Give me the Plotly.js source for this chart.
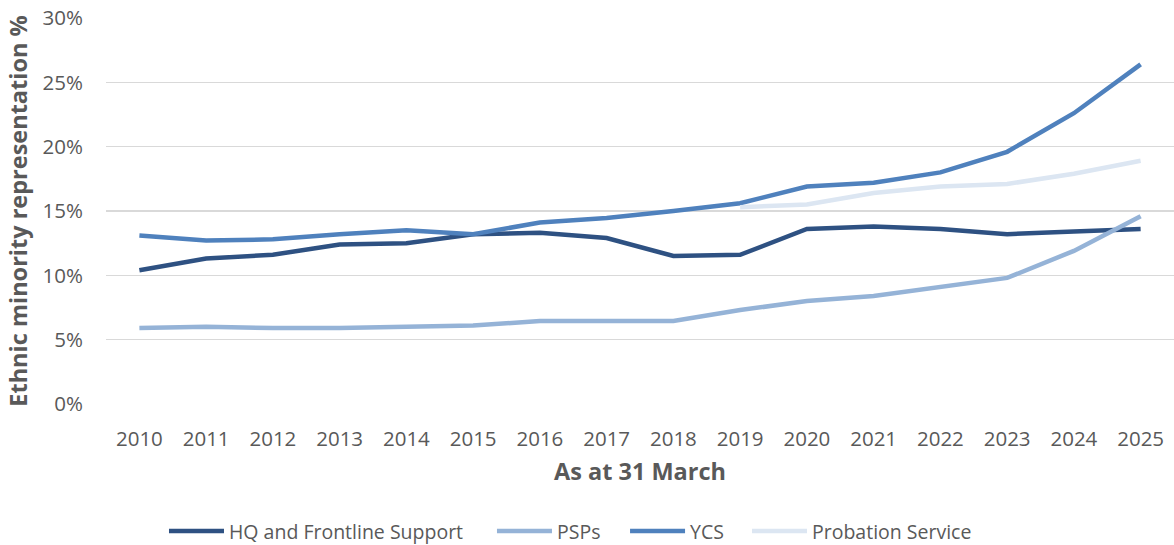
<!DOCTYPE html>
<html>
<head>
<meta charset="utf-8">
<script src="https://cdn.plot.ly/plotly-3.0.1.min.js"></script>
<style>
html,body{margin:0;padding:0;background:#fff;}
#chart{width:1174px;height:545px;}
</style>
</head>
<body>
<div id="chart"></div>
<script>
const years = [2010,2011,2012,2013,2014,2015,2016,2017,2018,2019,2020,2021,2022,2023,2024,2025];
const hqFrontline = [10.4,11.3,11.6,12.4,12.5,13.2,13.3,12.9,11.5,11.6,13.6,13.8,13.6,13.2,13.4,13.6];
const psps = [5.9,6.0,5.9,5.9,6.0,6.1,6.45,6.45,6.45,7.3,8.0,8.4,9.1,9.8,11.9,14.6];
const ycs = [13.1,12.7,12.8,13.2,13.5,13.2,14.1,14.45,15.0,15.6,16.9,17.2,18.0,19.6,22.6,26.4];
const probationYears = [2019,2020,2021,2022,2023,2024,2025];
const probation = [15.3,15.5,16.4,16.9,17.1,17.9,18.9];
const yTicks = [0,5,10,15,20,25,30];
const yTickLabels = ['0%','5%','10%','15%','20%','25%','30%'];

const FONT = '"Open Sans", "Noto Sans", Arial, sans-serif';
const GREY = '#595959';

const traces = [
  {x: years, y: hqFrontline, name: 'HQ and Frontline Support', type: 'scatter', mode: 'lines',
   line: {color: '#2e5182', width: 4.5}, legend: 'legend'},
  {x: years, y: psps, name: 'PSPs', type: 'scatter', mode: 'lines',
   line: {color: '#95b3d7', width: 4.5}, legend: 'legend2'},
  {x: years, y: ycs, name: 'YCS', type: 'scatter', mode: 'lines',
   line: {color: '#4f81bd', width: 4.5}, legend: 'legend3'},
  {x: probationYears, y: probation, name: 'Probation Service', type: 'scatter', mode: 'lines',
   line: {color: '#dce6f2', width: 4.5}, legend: 'legend4'}
];

function legendAt(x) {
  return {orientation: 'h', x: x, xanchor: 'left', y: -0.33, yanchor: 'middle',
          font: {family: FONT, size: 19.5, color: GREY}, itemwidth: 55, bgcolor: 'rgba(0,0,0,0)'};
}

const layout = {
  width: 1174, height: 545,
  margin: {l: 106, r: 0, t: 18, b: 141, pad: 0, autoexpand: false},
  paper_bgcolor: '#ffffff', plot_bgcolor: '#ffffff',
  font: {family: FONT, color: GREY, size: 20},
  showlegend: true,
  legend: legendAt(0.0543),
  legend2: legendAt(0.3614),
  legend3: legendAt(0.486),
  legend4: legendAt(0.6002),
  xaxis: {
    range: [2009.5, 2025.5], tickmode: 'array', tickvals: years, ticktext: years.map(String),
    showgrid: false, zeroline: false, showline: false, ticks: '',
    tickfont: {family: FONT, size: 20.5, color: GREY}, ticklabelstandoff: 20,
    title: {text: '<b>As at 31 March</b>', font: {family: FONT, size: 23.5, color: GREY}, standoff: 13}
  },
  yaxis: {
    range: [0, 30], tickmode: 'array', tickvals: yTicks, ticktext: yTickLabels,
    showgrid: true, gridcolor: '#d9d9d9', gridwidth: 1.5, zeroline: false, showline: false, ticks: '',
    tickfont: {family: FONT, size: 20.5, color: GREY}, ticklabelstandoff: 22,
    title: {text: '<b>Ethnic minority representation %</b>', font: {family: FONT, size: 23.5, color: GREY}, standoff: 8}
  }
};

Plotly.newPlot('chart', traces, layout, {displayModeBar: false, staticPlot: true});
</script>
</body>
</html>
